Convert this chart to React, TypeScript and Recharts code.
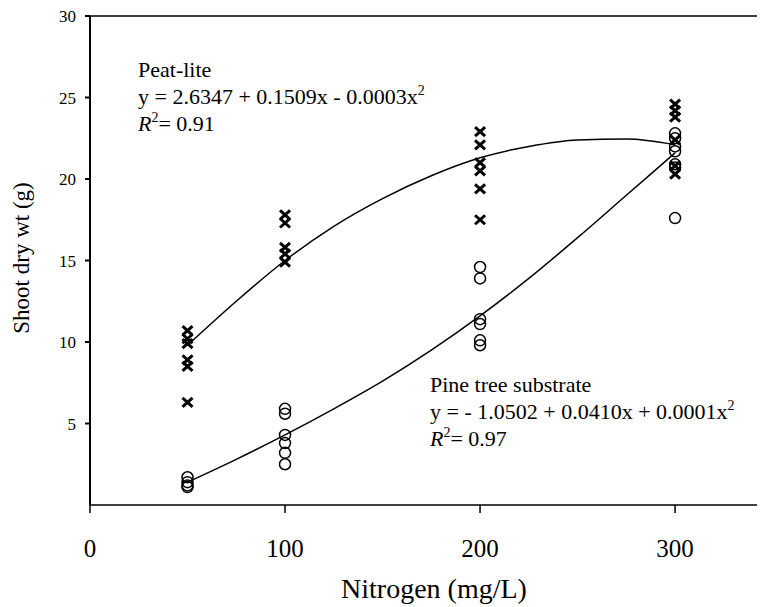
import React from 'react';
import { ComposedChart, XAxis, YAxis, Scatter, Line, ReferenceLine } from 'recharts';

// nitrogen rates and the shoot weights at each rate
const nitrogen = [50, 100, 200, 300];
const peatLiteWt = [
  [10.7, 10.2, 9.9, 8.9, 8.5, 6.3],
  [17.8, 17.3, 15.8, 15.4, 14.9],
  [22.9, 22.1, 21.0, 20.5, 19.4, 17.5],
  [24.6, 24.2, 23.8, 22.4, 20.8, 20.3],
];
const pineWt = [
  [1.7, 1.4, 1.2, 1.1],
  [5.9, 5.6, 4.3, 3.8, 3.2, 2.5],
  [14.6, 13.9, 11.4, 11.1, 10.1, 9.8],
  [22.8, 22.5, 22.0, 21.7, 20.9, 20.7, 17.6],
];

// fitted curves
const fitX = [50, 75, 100, 125, 150, 175, 200, 225, 250, 275, 300];
const peatLiteFit = [9.8, 12.5, 15.0, 17.1, 18.8, 20.2, 21.3, 22.0, 22.4, 22.45, 22.1];
const pineFit = [1.4, 2.8, 4.3, 5.9, 7.6, 9.5, 11.6, 13.9, 16.4, 19.0, 21.6];

const xTicks = [0, 100, 200, 300];
const yTicks = [5, 10, 15, 20, 25, 30];

const toPoints = (groups: number[][]) =>
  groups.flatMap((vals, i) => vals.map((y) => ({ x: nitrogen[i], y })));
const toCurve = (ys: number[]) => fitX.map((x, i) => ({ x, y: ys[i] }));

const peatPts = toPoints(peatLiteWt);
const pinePts = toPoints(pineWt);
const peatCurve = toCurve(peatLiteFit);
const pineCurve = toCurve(pineFit);

const FONT = '"Liberation Serif", "Times New Roman", serif';

const CrossMark = (props: any) => {
  const { cx, cy } = props;
  return (
    <g stroke="#000" strokeWidth={3}>
      <line x1={cx - 5} y1={cy - 4.5} x2={cx + 5} y2={cy + 4.5} />
      <line x1={cx - 5} y1={cy + 4.5} x2={cx + 5} y2={cy - 4.5} />
    </g>
  );
};

const RingMark = (props: any) => {
  const { cx, cy } = props;
  return <circle cx={cx} cy={cy} r={5.5} fill="none" stroke="#000" strokeWidth={1.5} />;
};

export default function App() {
  return (
    <div style={{ position: 'absolute', left: 0, top: 0, width: 761, height: 607, background: '#fff' }}>
      <ComposedChart width={761} height={607} margin={{ top: 16, right: 4, bottom: 0, left: 0 }}>
        <XAxis
          type="number"
          dataKey="x"
          domain={[0, 342]}
          ticks={xTicks}
          allowDataOverflow
          height={102}
          stroke="#000"
          strokeWidth={1.5}
          tickSize={8}
          tickMargin={26}
          tick={{ fill: '#000', fontSize: 25, fontFamily: FONT }}
        />
        <YAxis
          type="number"
          dataKey="y"
          domain={[0, 30]}
          ticks={yTicks}
          width={90}
          stroke="#000"
          strokeWidth={2}
          tickSize={5}
          tickMargin={9}
          tick={{ fill: '#000', fontSize: 17, fontFamily: FONT }}
        />
        <ReferenceLine y={30} stroke="#000" strokeWidth={1.5} />
        <Line
          data={peatCurve}
          dataKey="y"
          type="monotone"
          stroke="#000"
          strokeWidth={1.5}
          dot={false}
          isAnimationActive={false}
        />
        <Line
          data={pineCurve}
          dataKey="y"
          type="monotone"
          stroke="#000"
          strokeWidth={1.5}
          dot={false}
          isAnimationActive={false}
        />
        <Scatter data={pinePts} dataKey="y" shape={RingMark} isAnimationActive={false} />
        <Scatter data={peatPts} dataKey="y" shape={CrossMark} isAnimationActive={false} />
      </ComposedChart>

      <svg
        width={761}
        height={607}
        style={{ position: 'absolute', left: 0, top: 0, pointerEvents: 'none' }}
        fontFamily={FONT}
        fill="#000"
      >
        <text x={24} y={258} fontSize={23} textAnchor="middle" dominantBaseline="middle" transform="rotate(-90 24 258)">
          Shoot dry wt (g)
        </text>
        <text x={434} y={598} fontSize={28} textAnchor="middle">
          Nitrogen (mg/L)
        </text>

        <g fontSize={22}>
          <text x={138} y={77}>Peat-lite</text>
          <text x={138} y={104}>
            y = 2.6347 + 0.1509x - 0.0003x<tspan dy={-9} fontSize={14}>2</tspan>
          </text>
          <text x={138} y={131}>
            <tspan fontStyle="italic">R</tspan>
            <tspan dy={-9} fontSize={14}>2</tspan>
            <tspan dy={9}>= 0.91</tspan>
          </text>

          <text x={430} y={392}>Pine tree substrate</text>
          <text x={430} y={419}>
            y = - 1.0502 + 0.0410x + 0.0001x<tspan dy={-9} fontSize={14}>2</tspan>
          </text>
          <text x={430} y={446}>
            <tspan fontStyle="italic">R</tspan>
            <tspan dy={-9} fontSize={14}>2</tspan>
            <tspan dy={9}>= 0.97</tspan>
          </text>
        </g>
      </svg>
    </div>
  );
}
